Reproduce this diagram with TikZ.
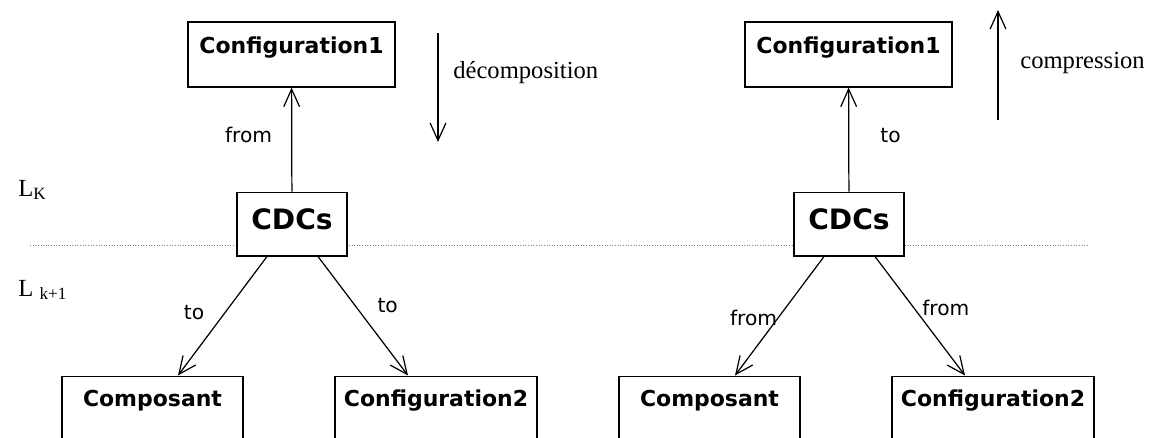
\documentclass[tikz,border=0pt]{standalone}
\usepackage{fontspec}
\setmainfont{Liberation Serif}
\setsansfont{DejaVu Sans}
\usepackage{tikz}
\usetikzlibrary{arrows.meta,positioning}
\tikzset{
box_n/.style = {draw=black, fill=white, line width=0.8pt, inner sep=0pt, align=center,
font=\sffamily\bfseries\fontsize{12.5}{15}\selectfont},
box_cfg/.style = {box_n, minimum width=4.14cm, text height=17.6pt, text depth=19.3pt},% configuration du haut
box_cdc/.style = {box_n, minimum width=2.2cm, text height=21.5pt, text depth=14.7pt,
font=\sffamily\bfseries\fontsize{16}{19}\selectfont},% noeud CDCs
box_bas/.style = {box_n, text height=17pt, text depth=34pt},% boites du bas, coupees
lbl/.style = {inner sep=0pt, font=\sffamily\fontsize{11.5}{14}\selectfont},% from / to
txt/.style = {inner sep=0pt, font=\fontsize{14}{17}\selectfont},
lvl/.style = {inner sep=0pt, font=\fontsize{14}{17}\selectfont},% niveaux L
fl/.style = {line width=0.7pt, -{Straight Barb[length=10pt,width=9pt]}},
sep/.style = {densely dotted, gray, line width=0.5pt}
}
\begin{document}
\begin{tikzpicture}[x=0.02cm, y=-0.02cm]
  \clip (0,0) rectangle (1152,437);
  % ligne de separation des niveaux
  \coordinate (sepW) at (30,245);
  \coordinate (sepE) at (1088,245);
  \draw[sep] (sepW) -- (sepE);
  \node[lvl, anchor=base west] (lk) at (18,196) {L\textsubscript{K}};
  \node[lvl, anchor=base west] (lk1) at (18,296) {L \textsubscript{k+1}};

  % decomposition
  \node[box_cfg] (confL) at (291.5,54.5) {Configuration1};
  \node[box_cdc] (cdcL) at (292,224) {CDCs};
  \node[box_bas, minimum width=3.62cm] (compL) at (152.5,421) {Composant};
  \node[box_bas, minimum width=4.04cm] (confbL) at (436,421) {Configuration2};
  \draw[fl] (cdcL) -- node[lbl, pos=0.54, left=0.38cm] {from} (confL);
  \draw[fl] ([xshift=-0.5cm]cdcL.south) -- node[lbl, pos=0.475, left=0.4cm] {to} ([xshift=0.51cm]compL.north);
  \draw[fl] ([xshift=0.52cm]cdcL.south) -- node[lbl, pos=0.41, right=0.44cm] {to} ([xshift=-0.56cm]confbL.north);
  \coordinate (decA) at (438,33);
  \coordinate (decB) at (438,142);
  \draw[fl] (decA) -- (decB);
  \node[txt, anchor=base west] (dec) at (453,78) {décomposition};

  % compression
  \node[box_cfg] (confR) at (848.5,54.5) {Configuration1};
  \node[box_cdc] (cdcR) at (849,224) {CDCs};
  \node[box_bas, minimum width=3.62cm] (compR) at (709.5,421) {Composant};
  \node[box_bas, minimum width=4.04cm] (confbR) at (993,421) {Configuration2};
  \draw[fl] (cdcR) -- node[lbl, pos=0.54, right=0.62cm] {to} (confR);
  \draw[fl] ([xshift=-0.5cm]cdcR.south) -- node[lbl, pos=0.52, left=0pt] {from} ([xshift=0.51cm]compR.north);
  \draw[fl] ([xshift=0.52cm]cdcR.south) -- node[lbl, pos=0.43, right=0.16cm] {from} ([xshift=-0.56cm]confbR.north);
  \coordinate (comA) at (998,120);
  \coordinate (comB) at (998,10);
  \draw[fl] (comA) -- (comB);
  \node[txt, anchor=base west] (com) at (1020,68) {compression};
\end{tikzpicture}
\end{document}
